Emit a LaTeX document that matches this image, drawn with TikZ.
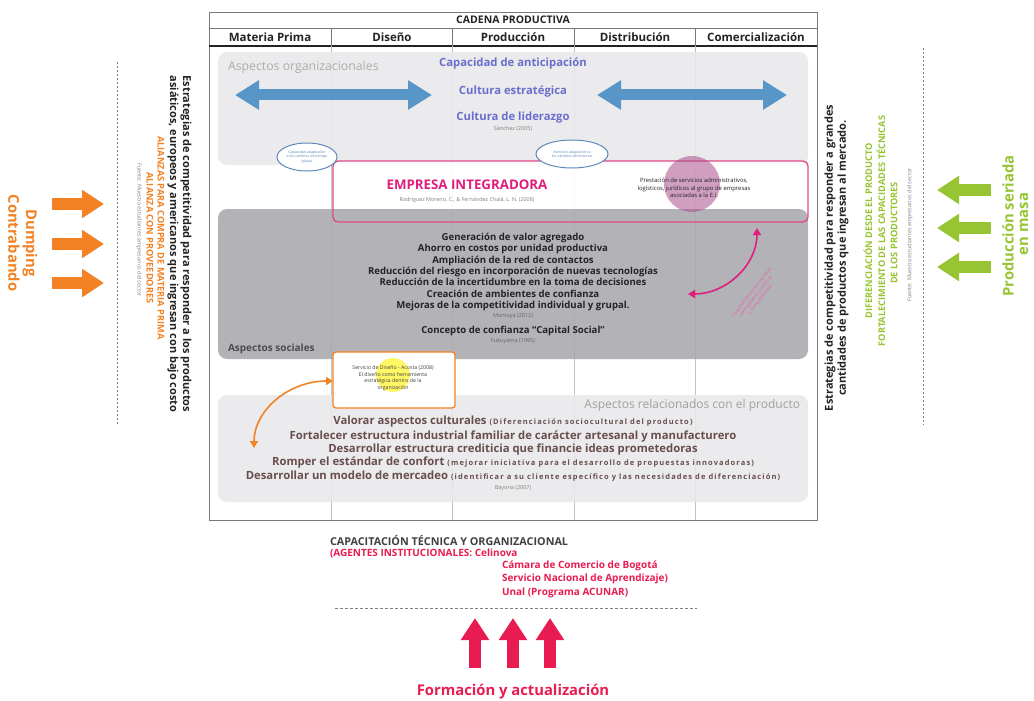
\documentclass[tikz,border=0pt]{standalone}
\usepackage{fontspec}
\setmainfont{Open Sans}
\newfontfamily\parenfont[LetterSpace=15]{Open Sans}
\usetikzlibrary{arrows.meta,shapes.geometric}
\definecolor{cBlueA}{RGB}{88,150,200}
\definecolor{cBlueT}{RGB}{105,110,205}
\definecolor{cEll}{RGB}{95,135,185}
\definecolor{cPinkB}{RGB}{225,70,135}
\definecolor{cMag}{RGB}{222,30,125}
\definecolor{cRed}{RGB}{232,28,80}
\definecolor{cOrange}{RGB}{242,130,35}
\definecolor{cGreen}{RGB}{150,196,50}
\definecolor{cLightBox}{RGB}{232,232,234}
\definecolor{cDarkBox}{RGB}{168,168,173}
\definecolor{cGrid}{RGB}{195,195,195}
\definecolor{cFrame}{RGB}{120,120,120}
\definecolor{cText}{RGB}{35,35,35}
\definecolor{cProd}{RGB}{105,78,78}
\definecolor{cPurple}{RGB}{170,80,140}
\newcommand{\parenpart}[1]{{\parenfont\bfseries\fontsize{7.5}{9}\selectfont #1}}
\begin{document}
\begin{tikzpicture}[x=1pt,y=-1pt,
  every node/.style={inner sep=0pt,outer sep=0pt},
  areabox/.style={rounded corners=9pt,anchor=north west,fill opacity=0.88},
  hdr/.style={font=\bfseries\fontsize{11.5}{13}\selectfont,text=cText},
  dark/.style={font=\bfseries\fontsize{9.6}{11.3}\selectfont,text=cText,align=center},
  cite/.style={font=\fontsize{5.5}{6.5}\selectfont,text=gray},
  prodl/.style={font=\bfseries\fontsize{11.3}{13}\selectfont,text=cProd},
  bluet/.style={font=\bfseries\fontsize{11.3}{13}\selectfont,text=cBlueT},
  blockarrow/.style={line width=12pt,-{Triangle[length=22pt,width=27pt]}},
  dblblock/.style={line width=11pt,{Triangle[length=24pt,width=28pt]}-{Triangle[length=24pt,width=28pt]}},
  sidetxt/.style={font=\bfseries\fontsize{11}{13}\selectfont,text=cText},
  capso/.style={font=\bfseries\fontsize{9.2}{11}\selectfont},
  srcs/.style={font=\fontsize{5.5}{6.5}\selectfont,text=gray},
  bigl/.style={font=\bfseries\fontsize{14.8}{17}\selectfont},
  botl/.style={font=\bfseries\fontsize{10}{12}\selectfont,anchor=west},
]
\useasboundingbox (0,0) rectangle (1034,701);
% ---------- frame and grid ----------
\coordinate (ftl) at (209,12); \coordinate (ftr) at (817,12);
\coordinate (fbl) at (209,520); \coordinate (fbr) at (817,520);
\draw[cFrame,line width=0.8pt] (ftl) -- (ftr) -- (fbr) -- (fbl) -- cycle;
\draw[cFrame,line width=0.8pt] (209,28) -- (817,28);
\draw[cText,line width=1.3pt] (209,46) -- (817,46);
\foreach \xx in {331,452,574,695}{
  \draw[cFrame,line width=0.6pt] (\xx,28) -- (\xx,46);
  \draw[cGrid,line width=0.6pt] (\xx,46) -- (\xx,520);
}
\node[hdr,font=\bfseries\fontsize{10.5}{12}\selectfont] (cadena) at (513,20) {CADENA PRODUCTIVA};
\node[hdr] (h1) at (270,37.5) {Materia Prima};
\node[hdr] (h2) at (392,37.5) {Diseño};
\node[hdr] (h3) at (513,37.5) {Producción};
\node[hdr] (h4) at (635,37.5) {Distribución};
\node[hdr] (h5) at (756,37.5) {Comercialización};
% ---------- area boxes ----------
\node[areabox,fill=cLightBox,minimum width=590pt,minimum height=113pt] (org) at (218,52) {};
\node[anchor=north west,fill=white,fill opacity=0.88,minimum width=475pt,minimum height=50pt] (eifill) at (333,161) {};
\node[areabox,fill=cDarkBox,minimum width=590pt,minimum height=150pt] (soc) at (218,209) {};
\node[areabox,fill=cLightBox,minimum width=590pt,minimum height=107pt] (prod) at (218,395) {};
\node[anchor=north west,draw=cPinkB,line width=1.3pt,rounded corners=5pt,minimum width=475pt,minimum height=61pt] (ei) at (333,161) {};
% ---------- organisational ----------
\node[anchor=west,font=\fontsize{12.3}{14}\selectfont,text=gray!65] (orgl) at (228,67) {Aspectos organizacionales};
\node[bluet] (b1) at (513,64) {Capacidad de anticipación};
\node[bluet] (b2) at (513,92) {Cultura estratégica};
\node[bluet] (b3) at (513,118) {Cultura de liderazgo};
\node[cite] (b4) at (513,129) {Sánchez (2005)};
\coordinate (al1) at (235,95); \coordinate (al2) at (432,95);
\coordinate (ar1) at (597,95); \coordinate (ar2) at (787,95);
\draw[cBlueA,dblblock] (al1) -- (al2);
\draw[cBlueA,dblblock] (ar1) -- (ar2);
% ---------- ellipses ----------
\node[ellipse,draw=cEll,fill=white,line width=1pt,minimum width=60pt,minimum height=28pt,align=center,font=\fontsize{3.6}{4.2}\selectfont,text=cEll] (e1) at (307,157) {Capacidad adaptación\\a los cambios de tiempo\\(plazo)};
\node[ellipse,draw=cEll,fill=white,line width=1pt,minimum width=72pt,minimum height=28pt,align=center,font=\fontsize{3.6}{4.2}\selectfont,text=cEll] (e2) at (572,154) {Atención adaptación a\\los cambios del entorno};
% ---------- empresa integradora ----------
\node[cPurple,fill=cPurple,fill opacity=0.55,circle,minimum size=56pt] (purp) at (692,184) {};
\node[font=\bfseries\fontsize{13.3}{15}\selectfont,text=cMag] (eit) at (467,185) {EMPRESA INTEGRADORA};
\node[font=\fontsize{5.4}{6.5}\selectfont,text=gray] (eic) at (467,200) {Rodríguez Moreno, C., \& Fernández Chalá, L. N. (2008)};
\node[align=center,font=\fontsize{5.9}{7.5}\selectfont,text=cText] (eir) at (694,188) {Prestación de servicios administrativos,\\logísticos, jurídicos al grupo de empresas\\asociadas a la E.I.};
% ---------- social ----------
\node[dark] (s1) at (513,272) {Generación de valor agregado\\Ahorro en costos por unidad productiva\\Ampliación de la red de contactos\\Reducción del riesgo en incorporación de nuevas tecnologías\\Reducción de la incertidumbre en la toma de decisiones\\Creación de ambientes de confianza\\Mejoras de la competitividad individual y grupal.};
\node[cite,text=black!60] (s2) at (513,316) {Montoya (2012)};
\node[dark] (s3) at (513,331) {Concepto de confianza “Capital Social”};
\node[cite,text=black!60] (s4) at (513,341) {Fukuyama (1995)};
\node[anchor=west,font=\bfseries\fontsize{10}{12}\selectfont,text=black!70] (socl) at (228,349) {Aspectos sociales};
\coordinate (pk1) at (757,228); \coordinate (pk2) at (688,294);
\draw[cMag,line width=1.6pt,{Triangle[length=7pt,width=8pt]}-{Triangle[length=7pt,width=8pt]}] (pk1) .. controls (757,265) and (726,294) .. (pk2);
\node[rotate=52,align=center,font=\fontsize{4.6}{5.6}\selectfont,text=cMag!70] (pkt) at (756,296) {Cooperación entre empresas\\para generar confianza\\y competitividad};
% ---------- orange box ----------
\node[anchor=north west,draw=cOrange,fill=white,line width=1.3pt,rounded corners=3pt,minimum width=122pt,minimum height=56pt] (ob) at (333,352) {};
\node[circle,fill=yellow,fill opacity=0.6,minimum size=34pt] (yc) at (393,375) {};
\node[align=center,font=\fontsize{5.2}{6.6}\selectfont,text=black!75] (obt) at (393,378) {Servicio de Diseño - Acosta (2008)\\El diseño como herramienta\\estratégica dentro de la\\organización};
\coordinate (oa) at (254,448);
\coordinate (ob1) at (333,381);
\draw[cOrange,line width=1.6pt,{Triangle[length=7pt,width=8pt]}-{Triangle[length=7pt,width=8pt]}] (oa) .. controls (254,411) and (288,381) .. (ob1);
% ---------- product ----------
\node[anchor=east,font=\fontsize{12}{14}\selectfont,text=gray!75] (prl) at (800,405) {Aspectos relacionados con el producto};
\node[prodl] (p1) at (513,422) {Valorar aspectos culturales \parenpart{(Diferenciación sociocultural del producto)}};
\node[prodl] (p2) at (513,437) {Fortalecer estructura industrial familiar de carácter artesanal y manufacturero};
\node[prodl] (p3) at (513,450) {Desarrollar estructura crediticia que financie ideas prometedoras};
\node[prodl] (p4) at (513,463) {Romper el estándar de confort \parenpart{(mejorar iniciativa para el desarrollo de propuestas innovadoras)}};
\node[prodl] (p5) at (513,476) {Desarrollar un modelo de mercadeo \parenpart{(identificar a su cliente específico y las necesidades de diferenciación)}};
\node[cite] (p6) at (513,488) {Bayona (2007)};
% ---------- left side ----------
\coordinate (ld1) at (117,62); \coordinate (ld2) at (117,425);
\draw[gray,line width=0.8pt,dash pattern=on 2pt off 2pt] (ld1) -- (ld2);
\node[sidetxt,rotate=-90] (lt1) at (186,244) {Estrategias de competitividad para responder a los productos};
\node[sidetxt,rotate=-90] (lt2) at (173,244) {asiáticos, europeos y americanos que ingresan con bajo costo};
\node[capso,rotate=-90,text=cOrange] (lt3) at (161,238) {ALIANZAS PARA COMPRA DE MATERIA PRIMA};
\node[capso,rotate=-90,text=cOrange] (lt4) at (150,238) {ALIANZA CON PROVEEDORES};
\node[srcs,rotate=-90] (lt5) at (139,230) {Fuente: Muestra estudiantes empresarios del sector};
\foreach \yy [count=\i] in {204,244,283}{
  \coordinate (la\i s) at (52,\yy); \coordinate (la\i e) at (104,\yy);
  \draw[cOrange,blockarrow] (la\i s) -- (la\i e);
}
\node[bigl,rotate=-90,text=cOrange] (dump) at (30,243) {Dumping};
\node[bigl,rotate=-90,text=cOrange] (contra) at (14,243) {Contrabando};
% ---------- right side ----------
\coordinate (rd1) at (923,48); \coordinate (rd2) at (923,425);
\draw[gray,line width=0.8pt,dash pattern=on 2pt off 2pt] (rd1) -- (rd2);
\node[sidetxt,rotate=90] (rt1) at (830,258) {Estrategias de competitividad para responder a grandes};
\node[sidetxt,rotate=90] (rt2) at (843,258) {cantidades de productos que ingresan al mercado.};
\node[capso,rotate=90,text=cGreen] (rt3) at (868,231) {DIFERENCIACIÓN DESDE EL PRODUCTO};
\node[capso,rotate=90,text=cGreen] (rt4) at (881,231) {FORTALECIMIENTO DE LAS CAPACIDADES TÉCNICAS};
\node[capso,rotate=90,text=cGreen] (rt5) at (894,233) {DE LOS PRODUCTORES};
\node[srcs,rotate=90] (rt6) at (910,235) {Fuente: Muestra estudiantes empresarios del sector};
\foreach \yy [count=\i] in {190,228,267}{
  \coordinate (ra\i s) at (991,\yy); \coordinate (ra\i e) at (937,\yy);
  \draw[cGreen,blockarrow] (ra\i s) -- (ra\i e);
}
\node[bigl,rotate=90,text=cGreen] (prs) at (1008,226) {Producción seriada};
\node[bigl,rotate=90,text=cGreen] (mas) at (1024,224) {en masa};
% ---------- bottom ----------
\node[botl,text=black!75,font=\bfseries\fontsize{10.8}{12}\selectfont] (cap) at (330,541) {CAPACITACIÓN TÉCNICA Y ORGANIZACIONAL};
\node[botl,text=cRed] (ag1) at (330,553) {(AGENTES INSTITUCIONALES: Celinova};
\node[botl,text=cRed] (ag2) at (502,566) {Cámara de Comercio de Bogotá};
\node[botl,text=cRed] (ag3) at (502,579) {Servicio Nacional de Aprendizaje)};
\node[botl,text=cRed] (ag4) at (502,593) {Unal (Programa ACUNAR)};
\coordinate (bd1) at (335,608); \coordinate (bd2) at (697,608);
\draw[gray,line width=0.8pt,dash pattern=on 3pt off 2pt] (bd1) -- (bd2);
\foreach \xx [count=\i] in {475,513,550}{
  \coordinate (ua\i s) at (\xx,668); \coordinate (ua\i e) at (\xx,618);
  \draw[cRed,blockarrow] (ua\i s) -- (ua\i e);
}
\node[text=cRed,font=\bfseries\fontsize{14.8}{17}\selectfont] (form) at (513,692) {Formación y actualización};
\end{tikzpicture}
\end{document}
